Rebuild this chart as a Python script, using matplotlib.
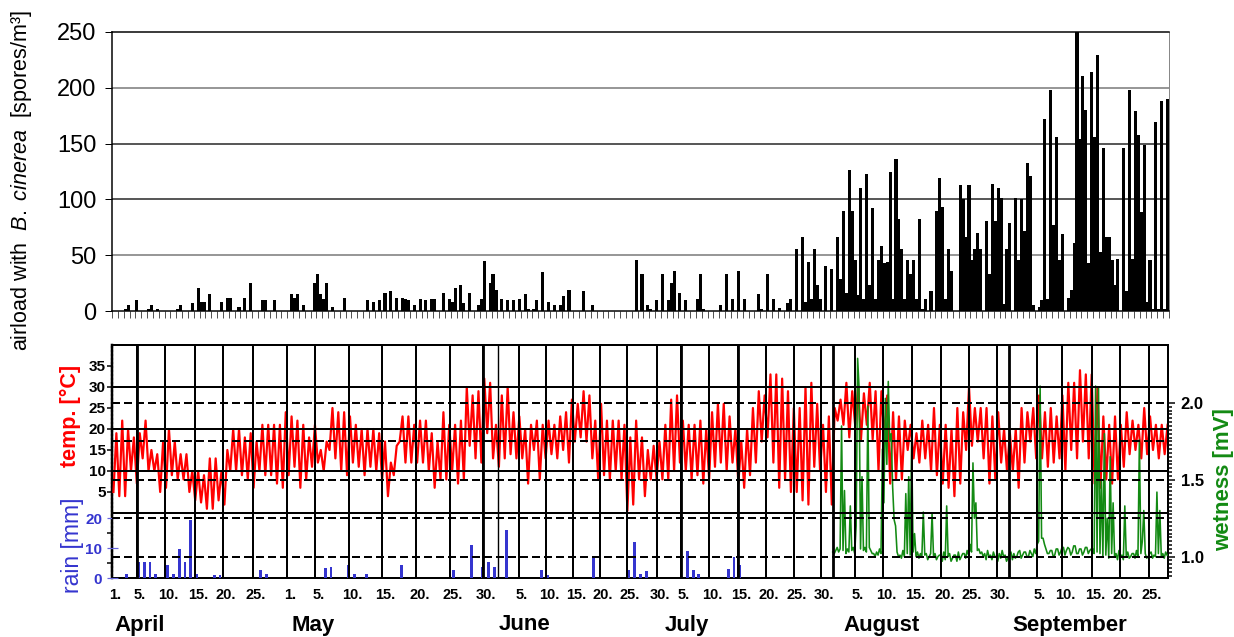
import numpy as np
import matplotlib
matplotlib.use("Agg")
import matplotlib.pyplot as plt
from matplotlib.transforms import blended_transform_factory, ScaledTranslation
from matplotlib.lines import Line2D

plt.rcParams['font.family'] = ['Liberation Sans', 'DejaVu Sans']
plt.rcParams['mathtext.fontset'] = 'custom'
plt.rcParams['mathtext.rm'] = 'Liberation Sans'
plt.rcParams['mathtext.it'] = 'Liberation Sans:italic'

# ---------------------------------------------------------------- data
# airborne B. cinerea spores, 12-hour samples from 1 April (spores/m3)
spores = [
    0, 0, 0, 0, 2, 5, 0, 0, 10, 0, 0, 0, 2, 5, 0, 2, 0, 0, 0, 0,
    0, 0, 2, 5, 0, 0, 0, 7, 0, 21, 8, 8, 0, 15, 0, 0, 0, 8, 0, 12,
    12, 0, 0, 4, 0, 12, 0, 25, 0, 0, 0, 10, 10, 0, 0, 10, 0, 0, 0, 0,
    0, 15, 12, 15, 0, 5, 0, 0, 0, 25, 33, 15, 11, 25, 0, 4, 0, 0, 0, 12,
    0, 0, 0, 0, 0, 0, 0, 10, 0, 8, 0, 10, 0, 16, 0, 18, 0, 12, 0, 12,
    11, 10, 0, 5, 0, 11, 0, 10, 0, 11, 11, 0, 0, 16, 0, 11, 8, 21, 0, 23,
    7, 0, 16, 0, 0, 5, 11, 45, 0, 25, 33, 19, 0, 11, 0, 10, 0, 10, 0, 11,
    0, 15, 2, 0, 2, 10, 0, 35, 0, 8, 0, 5, 0, 5, 13, 0, 19, 0, 0, 0,
    0, 18, 0, 0, 5, 0, 0, 0, 0, 0, 0, 0, 0, 0, 0, 0, 0, 0, 0, 46,
    0, 33, 0, 5, 2, 0, 10, 0, 33, 0, 10, 25, 36, 0, 16, 0, 10, 0, 0, 0,
    11, 33, 2, 0, 0, 0, 0, 0, 5, 0, 33, 0, 11, 0, 36, 0, 11, 0, 0, 0,
    0, 15, 2, 0, 33, 0, 11, 0, 3, 0, 0, 7, 11, 0, 56, 0, 66, 8, 44, 11,
    56, 23, 11, 0, 40, 0, 38, 0, 66, 29, 90, 16, 126, 90, 46, 14, 110, 11, 123, 23,
    92, 11, 46, 58, 43, 44, 125, 11, 136, 82, 56, 11, 46, 33, 46, 11, 82, 2, 11, 0,
    18, 0, 90, 119, 93, 11, 56, 36, 0, 0, 113, 100, 66, 113, 46, 56, 70, 56, 0, 81,
    33, 114, 81, 110, 101, 6, 56, 79, 0, 101, 46, 100, 72, 133, 121, 5, 0, 4, 10, 172,
    11, 198, 77, 156, 46, 69, 0, 12, 19, 61, 250, 154, 211, 180, 43, 214, 156, 229, 53, 146,
    66, 66, 46, 23, 47, 0, 146, 18, 198, 47, 179, 158, 89, 149, 8, 46, 2, 169, 2, 188,
    2, 190,
]

# daily air temperature extremes (deg C)
t_max = [
    19, 22, 20, 18, 19, 22, 15, 14, 17, 20,
    17, 14, 14, 10, 10, 9, 13, 13, 10, 15,
    20, 20, 18, 19, 17, 21, 21, 21, 21, 24,
    23, 22, 21, 18, 21, 15, 17, 25, 24, 24,
    23, 21, 20, 20, 20, 19, 17, 12, 16, 23,
    23, 21, 22, 22, 19, 17, 24, 21, 21, 22,
    30, 28, 29, 32, 31, 21, 28, 30, 24, 23,
    20, 21, 22, 21, 22, 21, 23, 24, 27, 26,
    29, 28, 22, 26, 22, 22, 22, 21, 18, 22,
    18, 15, 16, 17, 21, 27, 28, 22, 21, 21,
    22, 20, 24, 26, 26, 23, 20, 17, 20, 25,
    29, 28, 33, 33, 32, 29, 25, 25, 30, 31,
    26, 21, 23, 25, 27, 31, 29, 30, 28.5, 31,
    29, 29, 28, 24, 23, 22, 21, 19, 22, 21,
    25, 21, 21, 20, 25, 24, 30, 25, 25, 25,
    23, 24, 20, 19, 20, 25, 24, 25, 28, 24,
    25, 23, 28, 31, 31, 34, 33, 33, 30, 23,
    21, 23, 21, 24, 22, 21, 25, 23, 21, 21,
    21,
]
t_min = [
    5, 4, 4, 10, 7, 13, 10, 10, 5, 6,
    9, 8, 8, 5, 3, 2.5, 1, 1, 3, 2,
    10, 10, 9, 8, 6, 10, 9, 9, 7, 6,
    9, 11, 6, 8, 11, 12, 10, 15, 13, 10,
    9, 12, 11, 9, 11, 10, 8, 4, 9, 17,
    12, 12, 12, 12, 10, 6, 8, 8, 10, 7,
    8, 16, 13, 12, 19, 13, 11, 13, 14, 13,
    13, 7, 15, 8, 13, 14, 13, 15, 12, 17,
    18, 17, 13, 8, 9, 8, 10, 8, 0.5, 2,
    8, 4, 8, 8, 8, 8, 10, 12, 10, 8,
    9, 7, 8, 11, 12, 10, 12, 7, 6, 9,
    12, 17, 18, 12, 6, 8, 5, 5, 3, 2,
    11, 10, 5, 2, 22, 21, 18, 21, 17.5, 21,
    17.5, 10, 18, 7, 8, 8, 15, 13, 12, 13,
    10, 9, 7, 6, 4, 7, 15, 16, 17, 13,
    7, 8, 12, 10, 10, 6, 12, 17, 13, 13,
    11, 12, 13, 10, 15, 13, 17, 13, 7, 6,
    8, 7, 8, 11, 14, 15, 13, 14, 15, 13,
    14,
]

# daily rainfall (mm)
rain = [
    0, 0, 1.2, 0, 5.2, 5.2, 5.2, 1.2, 0, 4.4, 1.2, 9.6, 5.2, 19.2, 1.2, 0, 0, 0.9, 0.9, 0,
    0, 0, 0, 0, 0, 2.8, 1.2, 0, 0, 0, 0, 0, 0, 0, 0, 0, 3.2, 3.7, 0, 0,
    4.3, 1.3, 0, 1.3, 0, 0, 0, 0, 0, 4.4, 0, 0, 0, 0, 0, 0, 0, 0, 2.8, 0,
    0, 11, 0, 3.7, 5.3, 3.7, 0, 16, 0, 0, 0, 0, 0, 2.8, 1.1, 0, 0, 0, 0, 0,
    0, 0, 6.9, 0, 0, 0, 0, 0, 2.8, 12, 1.3, 2.2, 0, 0, 0, 0, 0, 0, 8.9, 2.8,
    1.3, 0, 0, 0, 0, 3.1, 6.9, 4.4, 0, 0, 0, 0, 0, 0, 0, 0, 0, 0, 0, 0,
] + [0] * 61

# leaf wetness sensor, 6-hour values from the start of logging (mV)
wetness = [
    1.03, 1.02, 1.04, 1.06, 1.03, 1.05, 1.85, 1.04, 1.43, 1.02,
    1.05, 1.03, 1.33, 1.04, 1.06, 1.02, 1.20, 2.29, 2.10, 1.05,
    1.52, 1.04, 1.06, 1.03, 1.98, 1.06, 1.04, 1.02, 1.02, 1.00,
    1.03, 1.01, 1.05, 1.02, 1.70, 1.35, 2.03, 1.60, 2.14, 1.75,
    1.80, 1.45, 1.24, 1.20, 1.03, 1.00, 1.01, 0.99, 1.04, 1.00,
    1.41, 1.02, 1.52, 1.01, 1.76, 1.03, 1.15, 1.00, 1.03, 0.99,
    1.02, 1.00, 1.29, 1.01, 1.02, 0.98, 1.00, 1.02, 1.28, 1.00,
    1.02, 0.98, 1.00, 1.01, 1.01, 0.97, 1.03, 0.98, 1.33, 1.00,
    1.02, 0.97, 0.99, 1.01, 1.01, 0.97, 1.03, 0.98, 1.00, 1.02,
    1.02, 0.99, 1.04, 1.01, 1.08, 1.03, 1.61, 1.25, 1.35, 1.04,
    1.05, 1.02, 1.03, 1.00, 1.02, 0.98, 1.04, 1.00, 1.01, 0.98,
    1.03, 1.00, 1.00, 0.97, 1.02, 0.99, 1.04, 1.00, 1.01, 0.97,
    0.99, 1.02, 1.03, 0.98, 1.02, 0.99, 1.00, 1.03, 1.04, 0.99,
    1.01, 1.03, 1.03, 1.00, 1.00, 1.04, 1.02, 1.00, 1.05, 1.02,
    1.08, 1.10, 2.11, 1.12, 1.12, 1.08, 1.05, 1.02, 1.02, 1.04,
    1.04, 1.00, 1.01, 1.05, 1.05, 1.01, 1.03, 1.06, 1.06, 1.01,
    1.04, 1.06, 1.05, 1.01, 1.03, 1.07, 1.07, 1.02, 1.02, 1.05,
    1.05, 1.01, 1.03, 1.06, 1.06, 1.02, 1.04, 1.05, 1.05, 1.02,
    2.11, 1.03, 2.10, 1.02, 1.50, 1.00, 1.80, 1.01, 1.25, 0.99,
    1.65, 1.02, 1.35, 1.00, 1.02, 0.98, 1.04, 1.00, 1.01, 0.98,
    1.33, 1.00, 1.03, 0.99, 1.00, 1.02, 1.02, 0.99, 1.04, 1.00,
    1.76, 1.02, 1.10, 1.30, 1.02, 0.99, 1.00, 1.02, 1.03, 0.99,
    1.01, 1.00, 1.42, 1.02, 1.30, 1.00, 1.02, 0.99, 1.03, 1.01,
]

# bottom panel calendar labels
day_labels = ["1.", "5.", "10.", "15.", "20.", "25.",
              "1.", "5.", "10.", "15.", "20.", "25.", "30.",
              "5.", "10.", "15.", "20.", "25.", "30.",
              "5.", "10.", "15.", "20.", "25.", "30.",
              "5.", "10.", "15.", "20.", "25.", "30.",
              "5.", "10.", "15.", "20.", "25."]
months = ["April", "May", "June", "July", "August", "September"]

# ---------------------------------------------------------------- layout
W, H = 1234, 637
PT = 0.72                      # points per pixel at 100 dpi
day_px = 5.84                  # width of one day in pixels

# where the calendar grid of the lower panel sits (in day widths)
grid_pos = [0, 4.28, 9.08, 14.2, 19.0, 24.1,
            30.0, 34.8, 40.6, 46.2, 52.1, 57.9, 63.5,
            69.7, 74.3, 78.9, 83.6, 88.2, 93.3,
            97.4, 102.2, 107.2, 112.0, 116.8, 121.4,
            127.2, 132.0, 137.0, 142.0, 146.7, 151.5,
            158.4, 162.7, 167.8, 172.6, 177.6]
heavy_pos = [4.28, 63.5, 97.4, 107.2, 123.5, 153.6]
extra_pos = [66.1]
month_pos = [4.8, 34.4, 70.7, 98.5, 131.8, 164.0]
wet_start = 123.3

RED = '#ff0000'
BLUE = '#3535cf'
GREEN = '#138a13'

fig = plt.figure(figsize=(W / 100, H / 100), dpi=100)

# ---------------------------------------------------------------- upper panel
ax1 = fig.add_axes([112 / W, 1 - 311 / H, (1169 - 112) / W, (311 - 32) / H])
xs = (np.arange(len(spores)) + 0.5) * 0.5
ax1.bar(xs, spores, width=0.53, color='black', linewidth=0, zorder=3)
ax1.set_xlim(0, 1057 / day_px)
ax1.set_ylim(0, 250)
for v, c in [(50, '#777777'), (100, '#222222'), (150, '#222222'), (200, '#777777')]:
    ax1.axhline(v, color=c, lw=1.5 * PT, zorder=1)
ax1.set_yticks(np.arange(0, 251, 50))
ax1.tick_params(axis='y', labelsize=17, length=7 * PT, width=1 * PT, pad=6)
ax1.set_xticks(np.arange(0, 182))
ax1.tick_params(axis='x', length=7 * PT, width=1 * PT, color='#555555',
                labelbottom=False)
ax1.spines['top'].set_linewidth(1.5 * PT)
ax1.spines['left'].set_linewidth(1.5 * PT)
ax1.spines['bottom'].set_linewidth(1.5 * PT)
ax1.spines['right'].set_color('#888888')
ax1.spines['right'].set_linewidth(1 * PT)

fig.text(22 / W, 1 - 180 / H,
         r'airload with  $B.\ cinerea$  [spores/m³]',
         rotation=90, ha='center', va='center', fontsize=15.5)

# ---------------------------------------------------------------- lower panel
ax2 = fig.add_axes([112 / W, 1 - 578 / H, (1168 - 112) / W, (578 - 345) / H])
axR = ax2.twinx()
axW = ax2.twinx()
xmax = 1056 / day_px
for a in (ax2, axR, axW):
    a.set_xlim(0, xmax)
ax2.set_ylim(-15.48, 40)
axR.set_ylim(0, 77.67)
axW.set_ylim(0.861, 2.377)

# temperature trace: daily minimum then maximum
tx = (np.arange(len(t_max))[:, None] + np.array([0.25, 0.75])).ravel()
ty = np.column_stack([t_min, t_max]).ravel()
ax2.plot(tx, ty, color=RED, lw=2.2 * PT, zorder=3)

# rainfall bars
axR.bar(np.arange(len(rain)) + 0.5, rain, width=0.5, color=BLUE,
        linewidth=0, zorder=3)

# leaf wetness
wx = wet_start + (np.arange(len(wetness)) + 0.5) * 0.25
axW.plot(wx, wetness, color=GREEN, lw=1.6 * PT, zorder=3)

# grid on top of the traces
tT = blended_transform_factory(axW.transAxes, ax2.transData)
for t in (0, 10, 20, 30):
    axW.add_line(Line2D([0, 1], [t, t], transform=tT, color='black',
                        lw=2 * PT, zorder=6))
for w in (1.0, 1.25, 1.5, 1.75, 2.0):
    axW.axhline(w, color='black', lw=2 * PT, ls=(0, (4, 2)), zorder=6)
for p in grid_pos[1:]:
    axW.axvline(p, color='black', lw=2 * PT, zorder=6)
for p in heavy_pos:
    axW.axvline(p, color='black', lw=2.8 * PT, zorder=6)
for p in extra_pos:
    axW.axvline(p, color='black', lw=1.4 * PT, zorder=6)

# spines
for s in axR.spines.values():
    s.set_visible(False)
for name, s in axW.spines.items():
    s.set_visible(name == 'right')
axW.spines['right'].set_linewidth(2 * PT)
ax2.spines['right'].set_visible(False)
ax2.spines['top'].set_linewidth(2 * PT)
ax2.spines['bottom'].set_linewidth(2 * PT)
ax2.spines['left'].set_linewidth(2.5 * PT)
ax2.spines['left'].set_linestyle((0, (0.8, 0.8)))

# temperature axis
ax2.set_yticks([5, 10, 15, 20, 25, 30, 35])
ax2.tick_params(axis='y', length=5 * PT, width=1.5 * PT, pad=1,
                labelsize=11)
for lab in ax2.get_yticklabels():
    lab.set_fontweight('bold')

# rain axis on the left
axR.yaxis.tick_left()
axR.set_yticks([0, 10, 20])
axR.set_yticks([5, 15], minor=True)
axR.tick_params(axis='y', which='major', direction='inout', length=11 * PT,
                width=1.2 * PT, color='#6666dd', labelcolor=BLUE,
                labelsize=11, pad=3)
axR.tick_params(axis='y', which='minor', direction='out', length=5 * PT,
                width=1.5 * PT, color='black')
for lab in axR.get_yticklabels():
    lab.set_fontweight('bold')

# wetness axis on the right
axW.set_yticks([1.0, 1.5, 2.0])
axW.set_yticklabels(['1.0', '1.5', '2.0'])
axW.set_yticks(np.arange(0.875, 2.001, 0.025), minor=True)
axW.tick_params(axis='y', which='major', length=7 * PT, width=1.5 * PT,
                labelsize=12, pad=4)
axW.tick_params(axis='y', which='minor', length=4 * PT, width=1.5 * PT)
for lab in axW.get_yticklabels():
    lab.set_fontweight('bold')

# calendar ticks
ax2.set_xticks(grid_pos)
ax2.set_xticklabels(day_labels, fontsize=10.5, fontweight='bold')
ax2.tick_params(axis='x', length=0, pad=7)
shift = ScaledTranslation(3 / 100, 0, fig.dpi_scale_trans)
for lab in ax2.get_xticklabels():
    lab.set_transform(lab.get_transform() + shift)
for a in (axR, axW):
    a.tick_params(axis='x', bottom=False, labelbottom=False)

mT = blended_transform_factory(ax2.transData, fig.transFigure)
for m, p in zip(months, month_pos):
    ax2.text(p, 1 - 625 / H, m, transform=mT, ha='center', va='center',
             fontsize=16, fontweight='bold')

fig.text(70 / W, 1 - 416 / H, 'temp. [°C]', color=RED, fontweight='bold',
         fontsize=15.5, rotation=90, ha='center', va='center')
fig.text(72 / W, 1 - 545 / H, 'rain [mm]', color=BLUE, fontsize=16.5,
         rotation=90, ha='center', va='center')
fig.text(1224 / W, 1 - 480 / H, 'wetness [mV]', color=GREEN,
         fontweight='bold', fontsize=16, rotation=90, ha='center',
         va='center')

fig.savefig('out.png', dpi=100)
